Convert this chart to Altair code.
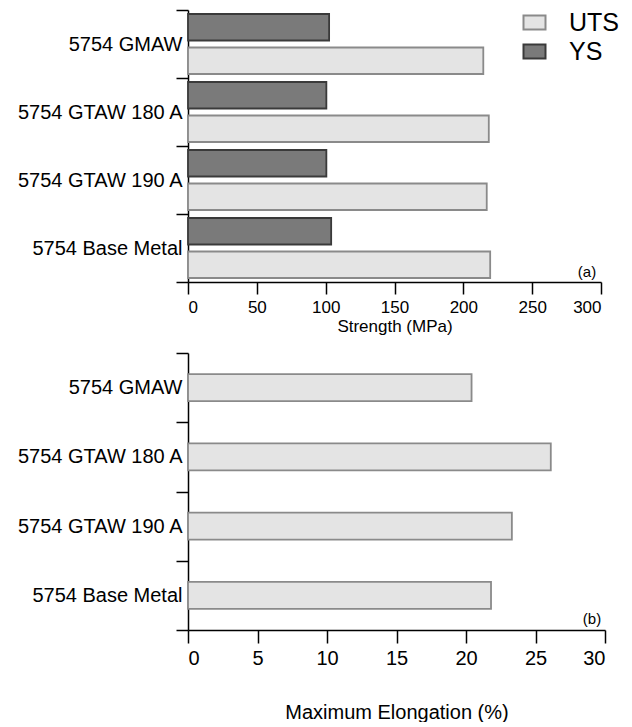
import altair as alt
import pandas as pd

categories = ["5754 GMAW", "5754 GTAW 180 A", "5754 GTAW 190 A", "5754 Base Metal"]
uts = [214.5, 218.5, 217.0, 219.5]
ys = [102.5, 100.5, 100.5, 104.0]
elongation = [20.4, 26.1, 23.3, 21.8]
series = ["UTS", "YS"]
strength_ticks = [0, 50, 100, 150, 200, 250, 300]
elong_ticks = [0, 5, 10, 15, 20, 25, 30]

FONT = "Liberation Sans"

rows = []
for c, u, y in zip(categories, uts, ys):
    rows.append({"cat": c, "series": "UTS", "value": u})
    rows.append({"cat": c, "series": "YS", "value": y})
df_a = pd.DataFrame(rows)
df_b = pd.DataFrame({"cat": categories, "value": elongation})


def y_axis():
    return alt.Axis(title=None,
                    labelFontSize={"condition": {"test": "!datum.label", "value": 0}, "value": 20},
                    labelFont=FONT, labelColor="black",
                    tickBand="extent", tickSize=12, tickColor="black", tickWidth=1.5,
                    domainColor="black", domainWidth=1.5, labelPadding=-6, labelLimit=400)


legend = alt.Legend(title=None, orient="none", legendX=334, legendY=0, padding=0,
                    labelFontSize=25, labelFont=FONT, labelColor="black",
                    symbolType="M-1,-0.64H1V0.64H-1Z", symbolSize=484,
                    symbolStrokeWidth=2, labelOffset=22, rowPadding=3)

bars_a = alt.Chart(df_a).mark_bar(strokeWidth=1.8).encode(
    x=alt.X("value:Q", scale=alt.Scale(domain=[0, 300], nice=False),
            axis=alt.Axis(values=strength_ticks, title="Strength (MPa)", tickSize=12,
                          tickColor="black", tickWidth=1.5, domainColor="black", domainWidth=1.5,
                          labelFontSize=17, labelFont=FONT, labelColor="black", labelPadding=5,
                          titleFontSize=17, titleFont=FONT, titleFontWeight="normal",
                          titleColor="black", titlePadding=3, grid=False)),
    y=alt.Y("cat:N", sort=categories, scale=alt.Scale(paddingInner=0, paddingOuter=0),
            axis=y_axis()),
    yOffset=alt.YOffset("series:N", scale=alt.Scale(domain=["YS", "UTS"], paddingInner=0.209,
                                                    paddingOuter=0.119)),
    fill=alt.Fill("series:N", scale=alt.Scale(domain=series, range=["#e4e4e4", "#7a7a7a"]),
                  legend=legend),
    stroke=alt.Stroke("series:N", scale=alt.Scale(domain=series, range=["#8a8a8a", "#3a3a3a"]),
                      legend=legend),
)

label_a = alt.Chart(pd.DataFrame({"t": ["(a)"]})).mark_text(
    fontSize=15, font=FONT, color="black").encode(
    text="t:N", x=alt.value(399), y=alt.value(262))

panel_a = alt.layer(bars_a, label_a).properties(width=413, height=272)

bars_b = alt.Chart(df_b).mark_bar(height=alt.RelativeBandSize(0.39), fill="#e4e4e4",
                                  stroke="#8a8a8a", strokeWidth=1.8).encode(
    x=alt.X("value:Q", scale=alt.Scale(domain=[0, 30], nice=False),
            axis=alt.Axis(values=elong_ticks, title="Maximum Elongation (%)", tickSize=13,
                          tickColor="black", tickWidth=1.5, domainColor="black", domainWidth=1.5,
                          labelFontSize=20, labelFont=FONT, labelColor="black", labelPadding=5,
                          titleFontSize=20, titleFont=FONT, titleFontWeight="normal",
                          titleColor="black", titlePadding=34, grid=False)),
    y=alt.Y("cat:N", sort=categories, scale=alt.Scale(paddingInner=0, paddingOuter=0),
            axis=y_axis()),
)

label_b = alt.Chart(pd.DataFrame({"t": ["(b)"]})).mark_text(
    fontSize=15, font=FONT, color="black").encode(
    text="t:N", x=alt.value(404), y=alt.value(266))

panel_b = alt.layer(bars_b, label_b).properties(width=417, height=277)

chart = alt.vconcat(panel_a, panel_b, spacing=18,
                    padding={"left": 8, "top": 1, "right": 0, "bottom": 0}).configure(
    font=FONT).configure_view(stroke="transparent", strokeWidth=0)

chart.save("out.html", embed_options={"renderer": "svg", "actions": False})
